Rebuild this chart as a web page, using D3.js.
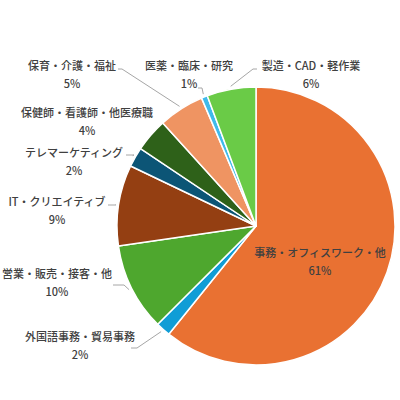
<!DOCTYPE html>
<html><head><meta charset="utf-8">
<script src="https://cdn.jsdelivr.net/npm/d3@7"></script>
<style>html,body{margin:0;padding:0;background:#fff}svg{display:block}</style>
</head><body>
<svg id="c" width="400" height="400"></svg>
<script>
const categories = ["事務・オフィスワーク・他","外国語事務・貿易事務","営業・販売・接客・他","IT・クリエイティブ","テレマーケティング","保健師・看護師・他医療職","保育・介護・福祉","医薬・臨床・研究","製造・CAD・軽作業"];
const values = [60.8, 1.7, 10.2, 9.4, 2.3, 3.9, 5.3, 0.7, 5.7];
const pctLabels = ["61%","2%","10%","9%","2%","4%","5%","1%","6%"];
const colors = ["#E97132","#109DD6","#4EA72E","#943F12","#0C5576","#2E6119","#EF9462","#3FBAEB","#6ACB47"];

// layout: label centre [x, y of first line]; leader knee & end (null = no leader)
const labelPos = [[320,253],[80,337],[57,274],[57,202],[74,153],[87,113],[72,66],[189,66],[311,66]];
const leaderEnd = [null,[[137,348],[131,348]],[[124,285],[113,285]],[[116,205],[108,205]],[[134,155],[126,155]],null,[[122,69],[118,69]],[[202,88],[198,88]],[[253,69],[257,69]]];

const W = 400, H = 400, cx = 256, cy = 226, r = 139;
const svg = d3.select("#c");
const g = svg.append("g").attr("transform", `translate(${cx},${cy})`);

const data = categories.map((c, i) => ({cat: c, v: values[i], pct: pctLabels[i], col: colors[i], i}));
const pie = d3.pie().value(d => d.v).sort(null);
const arcs = pie(data);
const arc = d3.arc().innerRadius(0).outerRadius(r);
const edge = d3.arc().innerRadius(r + 3).outerRadius(r + 3);

g.selectAll("path.slice").data(arcs).join("path")
  .attr("class", "slice")
  .attr("d", arc)
  .attr("fill", d => d.data.col)
  .attr("stroke", "#fff")
  .attr("stroke-width", 1.5)
  .attr("stroke-linejoin", "round");

// leader lines
const line = d3.line();
arcs.forEach(d => {
  const le = leaderEnd[d.data.i];
  if (!le) return;
  const p0 = edge.centroid(d);
  const pts = [[p0[0] + cx, p0[1] + cy], le[0], le[1]];
  svg.append("path").attr("d", line(pts))
    .attr("fill", "none").attr("stroke", "#A6A6A6").attr("stroke-width", 1);
});

// labels
const font = "'Noto Sans CJK JP', 'Noto Sans', sans-serif";
data.forEach(d => {
  const [x, y] = labelPos[d.i];
  const t = svg.append("text")
    .attr("x", x).attr("y", y)
    .attr("text-anchor", "middle")
    .attr("font-family", font).attr("font-size", 11)
    .attr("font-weight", 500)
    .attr("fill", "#404040");
  t.append("tspan").attr("x", x).attr("dy", "0.35em").text(d.cat);
  t.append("tspan").attr("x", x).attr("dy", "1.65em").text(d.pct);
});
</script>
</body></html>
